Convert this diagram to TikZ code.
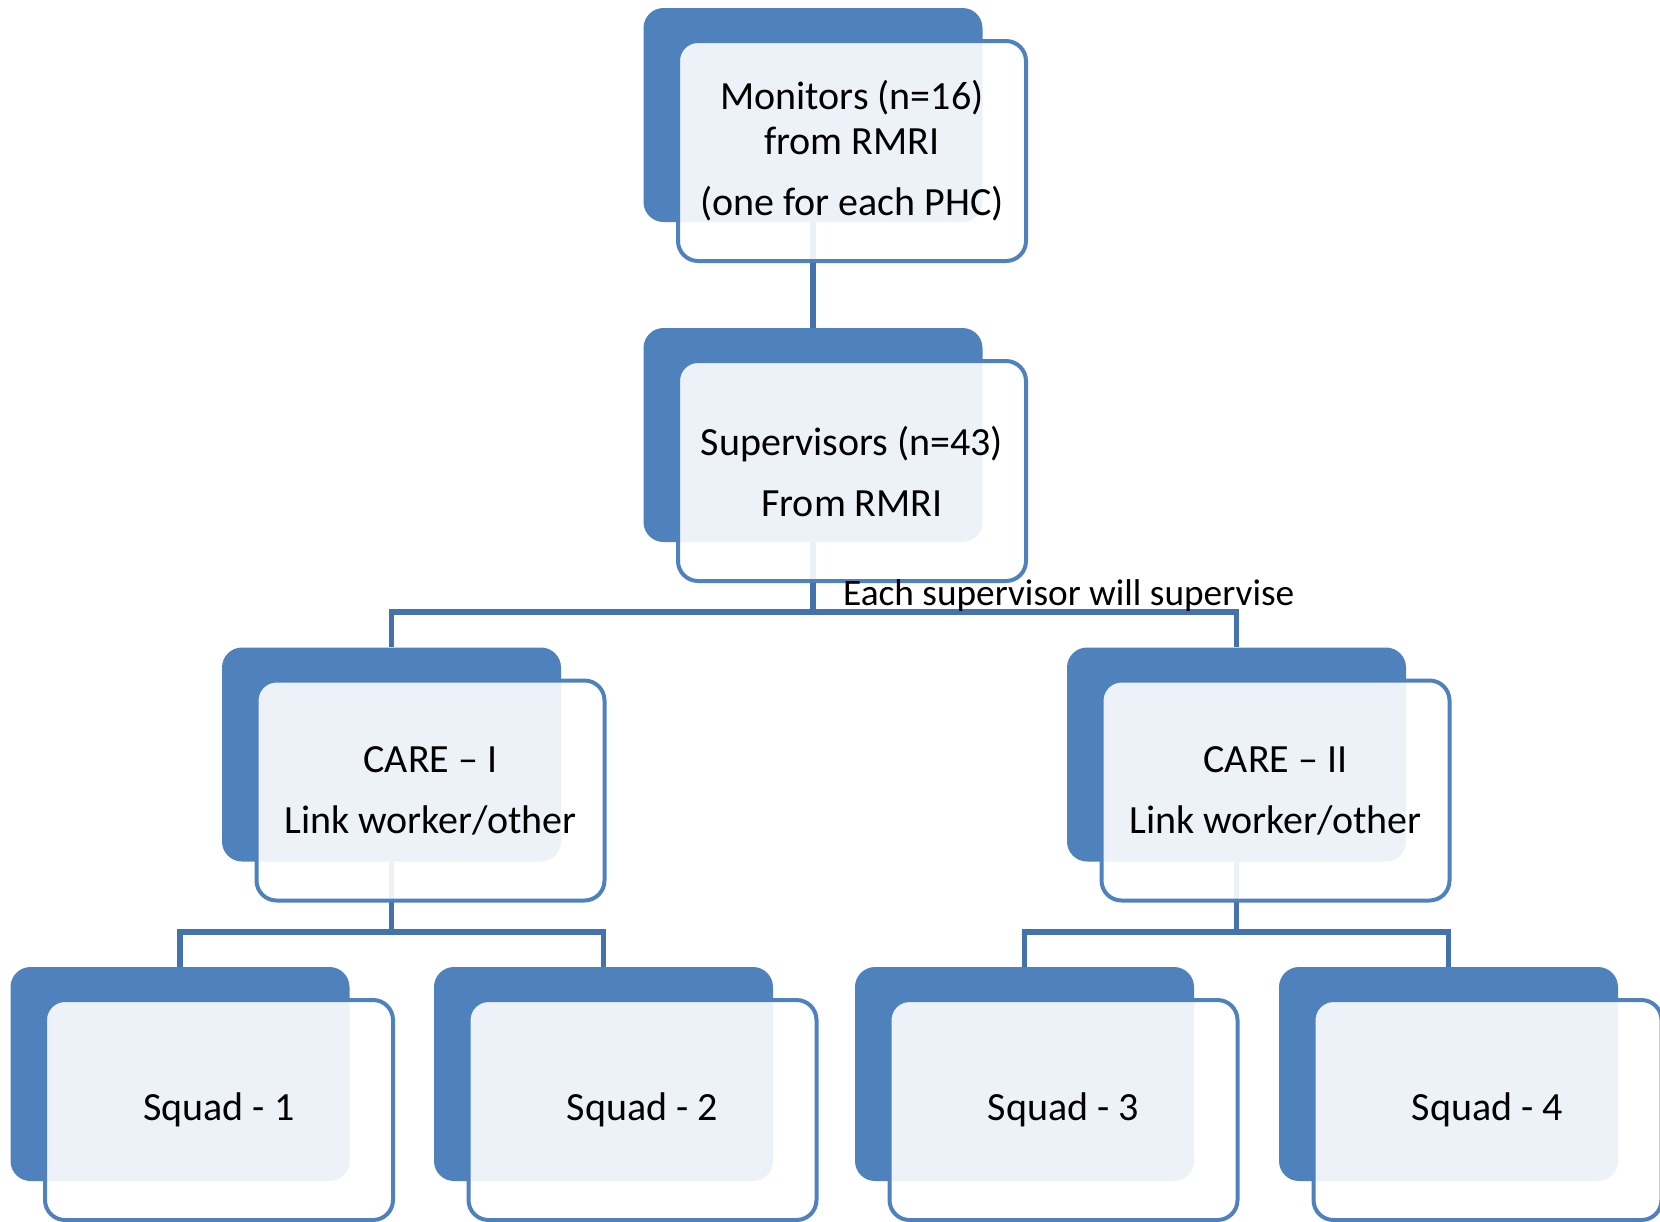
\documentclass[tikz,border=0pt]{standalone}
\usepackage{fontspec}
\setmainfont{Carlito}
\definecolor{accent}{HTML}{4F81BD}
\definecolor{linkblue}{HTML}{4472AA}
\begin{document}
\begin{tikzpicture}[x=1pt,y=-1pt,
  backbox/.style={rectangle, rounded corners=20pt, fill=accent,
    minimum width=339pt, minimum height=214pt, inner sep=0pt},
  frontbox/.style={rectangle, rounded corners=20pt, draw=accent, line width=4pt,
    fill=white, fill opacity=0.9, text opacity=1,
    minimum width=348pt, minimum height=220pt, inner sep=0pt,
    align=center, font=\fontsize{40}{45}\selectfont},
  link/.style={draw=linkblue, line width=5.5pt},
  note/.style={font=\fontsize{37.3}{40}\selectfont, inner sep=0pt, anchor=west}]
\useasboundingbox (0,0) rectangle (1660,1221);

% back (dark) cards
\node[backbox] (monb) at (813,115) {};
\node[backbox] (supb) at (813,435) {};
\node[backbox] (c1b)  at (391.5,754.5) {};
\node[backbox] (c2b)  at (1236.5,754.5) {};
\node[backbox] (s1b)  at (180,1074) {};
\node[backbox] (s2b)  at (603.5,1074) {};
\node[backbox] (s3b)  at (1024.5,1074) {};
\node[backbox] (s4b)  at (1448.5,1074) {};

% connectors, running beneath the front cards
\coordinate (j2) at (813,612);
\coordinate (j3a) at (391.5,932);
\coordinate (j3b) at (1236.5,932);
\draw[link] (monb.south) -- (supb.north);
\draw[link] (supb.south) -- (j2);
\draw[link] (c1b.north) |- (j2) -| (c2b.north);
\draw[link] (c1b.south) -- (j3a);
\draw[link] (s1b.north) |- (j3a) -| (s2b.north);
\draw[link] (c2b.south) -- (j3b);
\draw[link] (s3b.north) |- (j3b) -| (s4b.north);

% front (light) cards with their text
\node[frontbox] (mon) at ([shift={(39,36)}]monb.center)
  {Monitors (n=16)\\from RMRI\\[16pt](one for each PHC)};
\node[frontbox] (sup) at ([shift={(39,36)}]supb.center)
  {Supervisors (n=43)\\[16pt]From RMRI};
\node[frontbox] (c1) at ([shift={(39,36)}]c1b.center)
  {CARE -- I\\[16pt]Link worker/other};
\node[frontbox] (c2) at ([shift={(39,36)}]c2b.center)
  {CARE -- II\\[16pt]Link worker/other};
\node[frontbox] (s1) at ([shift={(39,36)}]s1b.center) {Squad - 1};
\node[frontbox] (s2) at ([shift={(39,36)}]s2b.center) {Squad - 2};
\node[frontbox] (s3) at ([shift={(39,36)}]s3b.center) {Squad - 3};
\node[frontbox] (s4) at ([shift={(39,36)}]s4b.center) {Squad - 4};

\node[note] (lbl) at ([shift={(30,-16)}]j2) {Each supervisor will supervise};
\end{tikzpicture}
\end{document}
